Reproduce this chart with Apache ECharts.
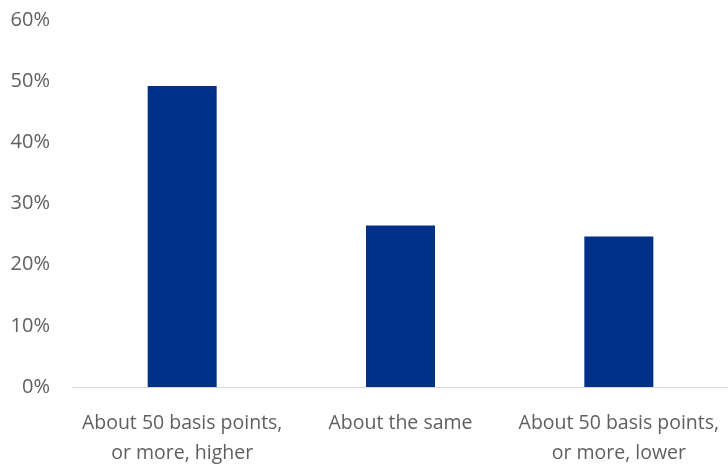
<!DOCTYPE html>
<html>
<head>
<meta charset="utf-8">
<script src="https://cdn.jsdelivr.net/npm/echarts@6/dist/echarts.min.js"></script>
<style>
  html, body { margin: 0; padding: 0; background: #fff; }
  #chart { width: 728px; height: 468px; }
</style>
</head>
<body>
<div id="chart"></div>
<script>
// Expected change in rates: share of respondents per answer
const categories = [
  'About 50 basis points,\nor more, higher',
  'About the same',
  'About 50 basis points,\nor more, lower'
];
const shares = [49.2, 26.4, 24.6];
const yTicks = [0, 10, 20, 30, 40, 50, 60];

const chart = echarts.init(document.getElementById('chart'));
chart.setOption({
  animation: false,
  grid: { left: 73, top: 20, width: 660, height: 372 },
  xAxis: {
    type: 'category',
    data: categories,
    axisLine: { lineStyle: { color: '#d9d9d9', width: 1 } },
    axisTick: { show: false },
    axisLabel: {
      color: '#5f5f5f',
      fontFamily: 'Open Sans',
      fontSize: 19.5,
      lineHeight: 30,
      margin: 21,
      interval: 0
    }
  },
  yAxis: {
    type: 'value',
    min: yTicks[0],
    max: yTicks[yTicks.length - 1],
    interval: 10,
    splitLine: { show: false },
    axisLine: { show: false },
    axisTick: { show: false },
    axisLabel: {
      color: '#5f5f5f',
      fontFamily: 'Open Sans',
      fontSize: 20,
      margin: 23,
      formatter: v => v + '%'
    }
  },
  series: [{
    type: 'bar',
    data: shares,
    barWidth: 69,
    itemStyle: { color: '#003087' }
  }]
});
</script>
</body>
</html>
